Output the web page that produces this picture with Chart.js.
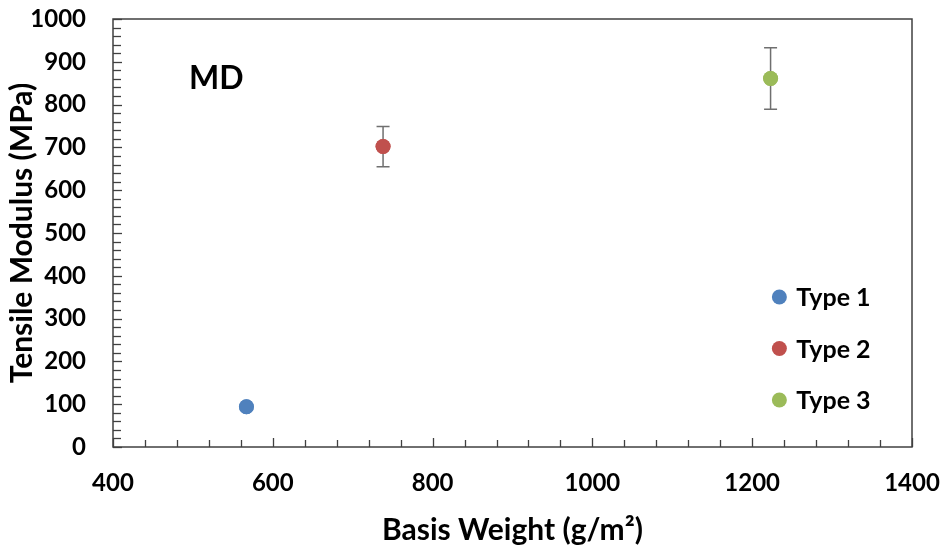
<!DOCTYPE html>
<html>
<head>
<meta charset="utf-8">
<script src="https://cdn.jsdelivr.net/npm/chart.js@4.4.0/dist/chart.umd.min.js"></script>
<style>
  html, body { margin: 0; padding: 0; background: #fff; }
  #wrap { width: 947px; height: 550px; }
</style>
</head>
<body>
<div id="wrap"><canvas id="chart" width="947" height="550"></canvas></div>
<script>
// 数据
const seriesLabels = ['Type 1', 'Type 2', 'Type 3'];
const basisWeight = [567, 738, 1223];
const modulus = [94, 702, 861];
const modulusErr = [0, 47, 72];
const seriesColors = ['#4F81BD', '#C0504D', '#9BBB59'];
const panelLabel = 'MD';

const FONT = 'Lato, "Open Sans", sans-serif';

// 边框、内侧刻度、误差线、图例
const decorations = {
    id: 'decorations',
    afterDatasetsDraw(chart) {
        const ctx = chart.ctx;
        const area = chart.chartArea;
        const xs = chart.scales.x;
        const ys = chart.scales.y;
        ctx.save();

        // 误差线
        ctx.strokeStyle = '#6f6f6f';
        ctx.lineWidth = 1.5;
        chart.data.datasets.forEach((ds, i) => {
            const err = modulusErr[i];
            if (!err) return;
            const px = xs.getPixelForValue(basisWeight[i]);
            const top = ys.getPixelForValue(modulus[i] + err);
            const bot = ys.getPixelForValue(modulus[i] - err);
            ctx.beginPath();
            ctx.moveTo(px, top); ctx.lineTo(px, bot);
            ctx.moveTo(px - 6.5, top); ctx.lineTo(px + 6.5, top);
            ctx.moveTo(px - 6.5, bot); ctx.lineTo(px + 6.5, bot);
            ctx.stroke();
        });
        // 点画在误差线上面
        chart.data.datasets.forEach((ds, i) => {
            chart.getDatasetMeta(i).controller.draw();
        });

        // 边框
        const l = xs.getPixelForValue(xs.min), r = xs.getPixelForValue(xs.max);
        const t = ys.getPixelForValue(ys.max), b = ys.getPixelForValue(ys.min);
        ctx.strokeStyle = '#404040';
        ctx.lineWidth = 1.5;
        ctx.strokeRect(l, t, r - l, b - t);

        // 刻度（内侧）
        ctx.lineWidth = 1.3;
        for (let v = xs.min; v <= xs.max; v += 40) {
            const px = Math.round(xs.getPixelForValue(v)) + 0.5;
            const len = v % 200 === 0 ? 9 : 7;
            ctx.beginPath();
            ctx.moveTo(px, b);
            ctx.lineTo(px, b - len);
            ctx.stroke();
        }
        for (let v = ys.min; v <= ys.max; v += 20) {
            const py = Math.round(ys.getPixelForValue(v)) + 0.5;
            const len = v % 100 === 0 ? 9 : 8;
            ctx.beginPath();
            ctx.moveTo(l, py);
            ctx.lineTo(l + len, py);
            ctx.stroke();
        }

        // MD 标签
        ctx.fillStyle = '#000';
        ctx.font = 'bold 32px ' + FONT;
        ctx.textBaseline = 'middle';
        ctx.textAlign = 'left';
        ctx.fillText(panelLabel, l + 76, t + 60);

        // 图例
        ctx.font = 'bold 25px ' + FONT;
        const lx = l + 0.834 * (r - l);
        seriesLabels.forEach((lab, i) => {
            const ly = t + 278 + i * 51.5;
            ctx.fillStyle = seriesColors[i];
            ctx.beginPath();
            ctx.arc(lx, ly, 7.5, 0, Math.PI * 2);
            ctx.fill();
            ctx.fillStyle = '#000';
            ctx.fillText(lab, lx + 17, ly + 1);
        });
        ctx.restore();
    }
};

const datasets = seriesLabels.map((lab, i) => ({
    label: lab,
    data: [{ x: basisWeight[i], y: modulus[i] }],
    backgroundColor: seriesColors[i],
    borderColor: seriesColors[i],
    pointRadius: 7.5,
    pointHoverRadius: 7.5,
    borderWidth: 0
}));

new Chart(document.getElementById('chart').getContext('2d'), {
    type: 'scatter',
    data: { datasets: datasets },
    options: {
        responsive: false,
        animation: false,
        layout: { padding: { left: 0, right: 35, top: 19, bottom: 0 } },
        plugins: {
            legend: { display: false },
            tooltip: { enabled: false }
        },
        scales: {
            x: {
                min: 400,
                max: 1400,
                ticks: {
                    stepSize: 200,
                    color: '#000',
                    font: { family: FONT, size: 24, weight: 'bold' },
                    padding: 22,
                    callback: (v) => String(v)
                },
                grid: { display: false, drawTicks: false },
                border: { display: false },
                title: {
                    display: true,
                    text: 'Basis Weight (g/m\u00B2)',
                    color: '#000',
                    font: { family: FONT, size: 30, weight: 'bold' },
                    padding: { top: 6, bottom: 2 }
                },
                afterFit(scale) {
                    scale.height = 103;
                    scale.paddingLeft = 0;
                    scale.paddingRight = 0;
                }
            },
            y: {
                min: 0,
                max: 1000,
                ticks: {
                    stepSize: 100,
                    color: '#000',
                    font: { family: FONT, size: 24, weight: 'bold' },
                    padding: 27,
                    callback: (v) => String(v)
                },
                grid: { display: false, drawTicks: false },
                border: { display: false },
                title: {
                    display: true,
                    text: 'Tensile Modulus (MPa)',
                    color: '#000',
                    font: { family: FONT, size: 30, weight: 'bold' },
                    padding: { top: 4, bottom: 2 }
                },
                afterFit(scale) {
                    scale.width = 113;
                    scale.paddingTop = 0;
                    scale.paddingBottom = 0;
                }
            }
        }
    },
    plugins: [decorations]
});
</script>
</body>
</html>
